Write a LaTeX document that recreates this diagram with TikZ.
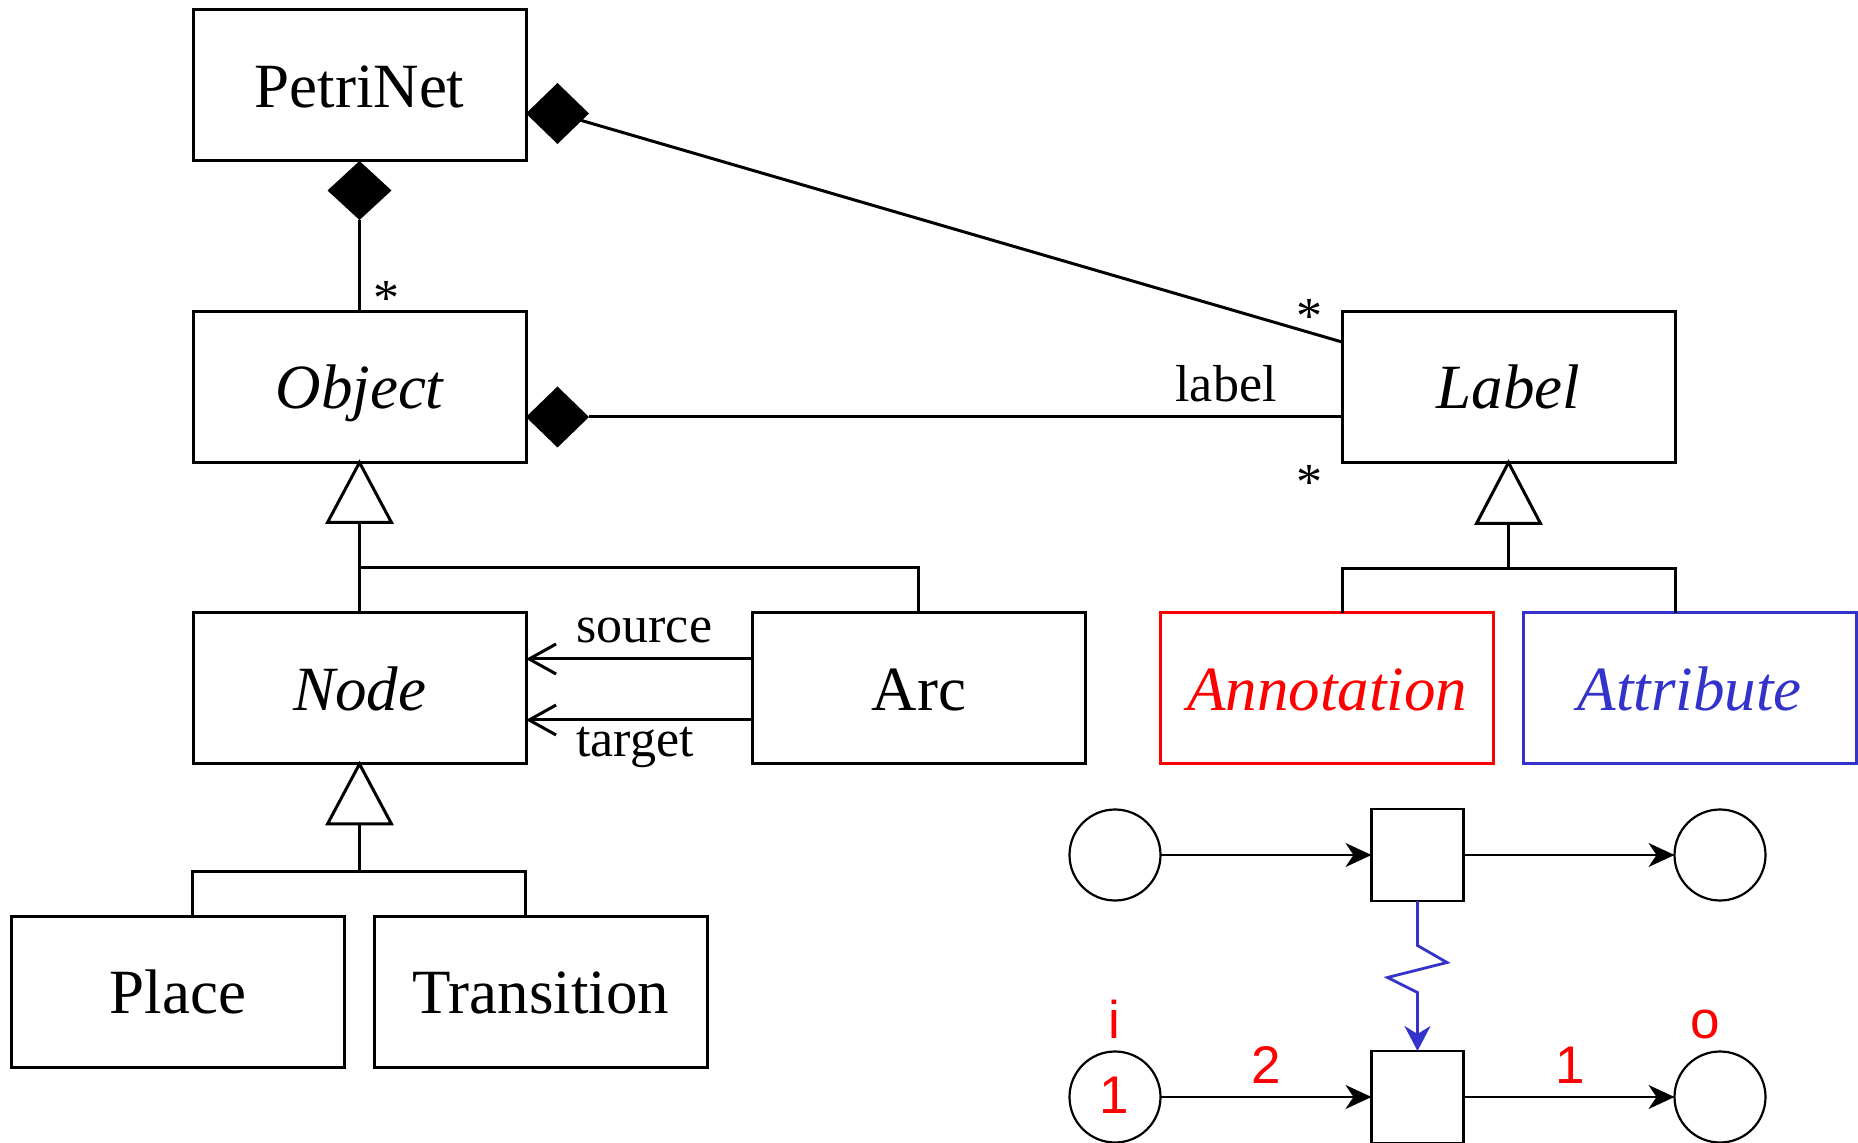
\documentclass[tikz,border=0pt]{standalone}
\usepackage{fontspec}
\setmainfont{Liberation Serif}
\newfontfamily\petrisans{Liberation Sans}
\usetikzlibrary{arrows.meta,calc}

\definecolor{annotred}{RGB}{255,0,0}
\definecolor{attrblue}{RGB}{51,51,204}

\tikzset{
  umlbox/.style={draw, line width=1.5pt, rectangle, inner sep=0pt, outer sep=0pt,
    minimum width=166.5pt, minimum height=75.5pt,
    font=\fontsize{31.5}{38}\selectfont, text height=23.6pt, text depth=1.6pt},
  abstractbox/.style={umlbox, font=\fontsize{31.5}{38}\selectfont\itshape},
  uml/.style={line width=1.5pt, line join=miter},
  compdiamond/.style={fill=black},
  genhead/.style={draw, fill=white, line width=1.5pt, line join=miter},
  rolelabel/.style={font=\fontsize{26}{31}\selectfont, inner sep=0pt},
  navarrow/.style={uml, -{Straight Barb[length=13.5pt,width=15pt]}},
  placenode/.style={draw, circle, line width=1.1pt, minimum size=45.5pt, inner sep=0pt, outer sep=0pt},
  transnode/.style={draw, rectangle, line width=1.1pt, minimum size=46pt, inner sep=0pt, outer sep=0pt},
  flow/.style={line width=1.1pt, -{Stealth[length=13pt,width=12pt,inset=4pt]}},
  refine/.style={draw=attrblue, line width=1.4pt, line join=miter,
    -{Stealth[length=12.5pt,width=13pt,inset=4pt]}},
  petrilabel/.style={font=\petrisans\fontsize{26.5}{32}\selectfont, text=annotred, inner sep=0pt},
}

\begin{document}
\begin{tikzpicture}[x=0.5pt,y=-0.5pt]
\useasboundingbox (0,0) rectangle (1858,1143);

% ---------- class boxes ----------
\node[umlbox] (petri) at (359.5,85.5) {PetriNet};
\node[abstractbox] (object) at (359.5,387) {Object};
\node[abstractbox] (node) at (359.5,688.5) {Node};
\node[umlbox] (arc) at (918.8,688.5) {Arc};
\node[umlbox] (place) at (178,991.5) {Place};
\node[umlbox] (transition) at (540.7,991.5) {Transition};
\node[abstractbox] (label) at (1508.5,387) {Label};
\node[abstractbox, draw=annotred, text=annotred] (annotation) at (1327.2,688.5) {Annotation};
\node[abstractbox, draw=attrblue, text=attrblue] (attribute) at (1689.5,688.5) {Attribute};

% ---------- PetriNet <>-- Object ----------
\coordinate (pcompB) at ($(petri.south)+(0,59)$);
\draw[uml] (pcompB) -- (object.north);
\fill[compdiamond] (petri.south) -- ++(-32,29.5) -- ++(32,29.5) -- ++(32,-29.5) -- cycle;
\node[rolelabel, anchor=base] (mObj) at (386.5,316) {*};

% ---------- PetriNet <>-- Label ----------
\coordinate (pdL) at ($(petri.east)+(0,28)$);
\coordinate (pdC) at ($(pdL)+(31.5,0)$);
\coordinate (labTop) at ($(label.west)+(0,-45)$);
\draw[uml] (pdC) -- (labTop);
\fill[compdiamond] (pdL) -- ++(31.5,-30.5) -- ++(31.5,30.5) -- ++(-31.5,30.5) -- cycle;
\node[rolelabel, anchor=base] (mLab1) at (1309,333.5) {*};

% ---------- Object <>-- Label (role "label") ----------
\coordinate (odL) at ($(object.east)+(0,30)$);
\coordinate (odR) at ($(odL)+(63,0)$);
\coordinate (labMid) at ($(label.west)+(0,30)$);
\draw[uml] (odR) -- (labMid);
\fill[compdiamond] (odL) -- ++(31.5,-30.5) -- ++(31.5,30.5) -- ++(-31.5,30.5) -- cycle;
\node[rolelabel, anchor=base] (roleLabel) at (1226,402) {label};
\node[rolelabel, anchor=base] (mLab2) at (1309,499.5) {*};

% ---------- generalisation: Node, Arc -> Object ----------
\coordinate (objBase) at ($(object.south)+(0,60)$);
\coordinate (objFork) at ($(object.south)+(0,105)$);
\draw[uml] (objBase) -- (node.north);
\draw[uml] (objFork) -| (arc.north);
\draw[genhead] (object.south) -- ++(32,60) -- ++(-64,0) -- cycle;

% ---------- generalisation: Place, Transition -> Node ----------
\coordinate (nodeBase) at ($(node.south)+(0,60)$);
\coordinate (nodeFork) at ($(node.south)+(0,107)$);
\coordinate (placeIn) at ($(place.north)+(14.7,0)$);
\coordinate (transIn) at ($(transition.north)+(-15,0)$);
\draw[uml] (nodeBase) -- (nodeFork);
\draw[uml] (placeIn) -- (placeIn |- nodeFork) -- (transIn |- nodeFork) -- (transIn);
\draw[genhead] (node.south) -- ++(32,60) -- ++(-64,0) -- cycle;

% ---------- generalisation: Annotation, Attribute -> Label ----------
\coordinate (labBase) at ($(label.south)+(0,61)$);
\coordinate (labFork) at ($(label.south)+(0,106)$);
\coordinate (annIn) at ($(annotation.north)+(15,0)$);
\coordinate (attIn) at ($(attribute.north)+(-14.5,0)$);
\draw[uml] (labBase) -- (labFork);
\draw[uml] (annIn) -- (annIn |- labFork) -- (attIn |- labFork) -- (attIn);
\draw[genhead] (label.south) -- ++(32,61) -- ++(-64,0) -- cycle;

% ---------- Arc -> Node (source / target) ----------
\draw[navarrow] ($(arc.west)+(0,-29.5)$) -- ($(node.east)+(0,-29.5)$);
\draw[navarrow] ($(arc.west)+(0,31.5)$) -- ($(node.east)+(0,31.5)$);
\node[rolelabel, anchor=base west] (srcLabel) at (576,643) {source};
\node[rolelabel, anchor=base west] (tgtLabel) at (576,757) {target};

% ---------- small Petri net example ----------
\node[placenode] (p1) at (1115,855) {};
\node[transnode] (t1) at (1417.5,855) {};
\node[placenode] (p2) at (1720,855) {};
\node[placenode] (p3) at (1115,1097) {};
\node[transnode] (t2) at (1417.5,1097) {};
\node[placenode] (p4) at (1720,1097) {};

\draw[flow] (p1) -- (t1);
\draw[flow] (t1) -- (p2);
\draw[flow] (p3) -- (t2);
\draw[flow] (t2) -- (p4);

\draw[refine] (t1.south) -- ++(0,44.5) -- ++(29.5,17) -- ++(-59.5,15) -- ++(30,15) -- (t2.north);

\node[petrilabel, anchor=base] (tok) at (1114,1113) {1};
\node[petrilabel, anchor=base] (nameI) at (1114,1038) {i};
\node[petrilabel, anchor=base] (nameO) at (1705,1038) {o};
\node[petrilabel, anchor=base] (w2) at (1266,1083) {2};
\node[petrilabel, anchor=base] (w1) at (1570,1083) {1};
\end{tikzpicture}
\end{document}
